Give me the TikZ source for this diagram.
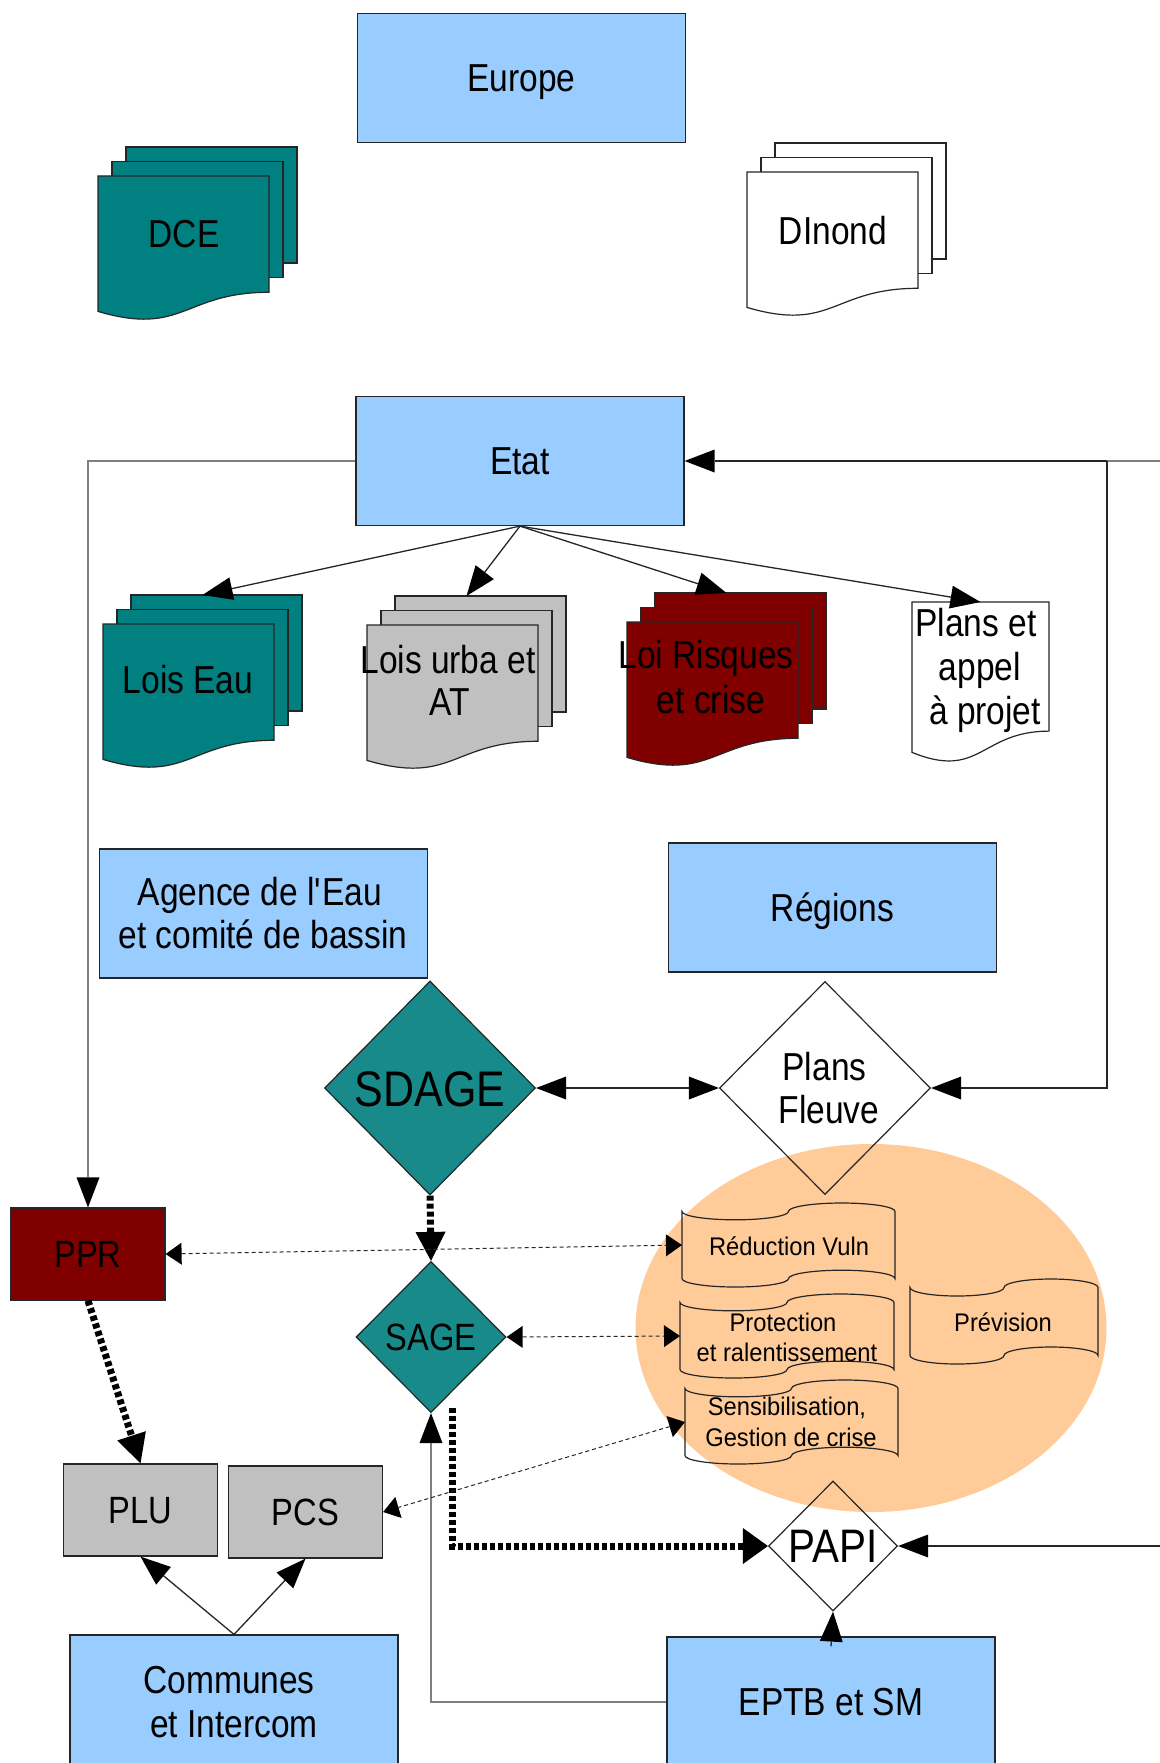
\documentclass[tikz,border=0pt]{standalone}
\usepackage{fontspec}
\setmainfont{Liberation Sans}[FakeStretch=0.86]
\newfontfamily\smallfam{Liberation Sans}[FakeStretch=0.93]
\usetikzlibrary{shapes.geometric,arrows.meta}
\definecolor{lblue}{HTML}{99CCFF}
\definecolor{teal1}{HTML}{008080}
\definecolor{teal2}{HTML}{198A8A}
\definecolor{dred}{HTML}{800000}
\definecolor{lgray}{HTML}{C0C0C0}
\definecolor{peach}{HTML}{FFCC99}
\definecolor{edge}{HTML}{262626}
\definecolor{gline}{HTML}{7F7F7F}
\tikzset{
  txtbig/.style={font=\fontsize{39}{44}\selectfont, text height=27.9pt, text depth=0pt, inner sep=0pt},
  txtmid/.style={font=\fontsize{38}{44}\selectfont, text height=27.2pt, text depth=0pt, inner sep=0pt},
  txtsmall/.style={font=\smallfam\fontsize{25.5}{30}\selectfont, text height=18.3pt, text depth=0pt, inner sep=0pt},
  txtsdage/.style={font=\fontsize{50}{56}\selectfont, text height=35.8pt, text depth=0pt, inner sep=0pt},
  txtpapi/.style={font=\fontsize{47}{53}\selectfont, text height=33.6pt, text depth=0pt, inner sep=0pt},
  shapeline/.style={draw=edge, line width=1.2pt},
  ghost/.style={inner sep=0pt, outer sep=0pt},
  bluebox/.style={draw=edge, line width=1.2pt, fill=lblue, minimum width=328pt, minimum height=129pt, txtbig},
  rectbox/.style={draw=edge, line width=1.2pt, minimum width=154pt, minimum height=92pt, txtmid},
  diam/.style={diamond, draw=edge, line width=1.2pt, inner sep=0pt},
  conn/.style={draw=edge, line width=1.3pt, -{Triangle[length=30pt,width=23pt,line width=0pt,color=black]}},
  connboth/.style={draw=edge, line width=1.3pt, {Triangle[length=30pt,width=23pt,line width=0pt,color=black]}-{Triangle[length=30pt,width=23pt,line width=0pt,color=black]}},
  gconn/.style={draw=gline, line width=1.6pt, -{Triangle[length=30pt,width=23pt,line width=0pt,color=black]}},
  heavydots/.style={draw=black, line width=7pt, dash pattern=on 5pt off 3pt, -{Triangle[length=29pt,width=30pt,line width=0pt]}},
  heavydotsb/.style={draw=black, line width=7pt, dash pattern=on 5pt off 3pt, -{Triangle[length=25pt,width=36pt,line width=0pt]}},
  lightdash/.style={draw=edge, line width=1pt, dash pattern=on 4pt off 3pt, {Triangle[length=16pt,width=22pt,line width=0pt,color=black]}-{Triangle[length=16pt,width=22pt,line width=0pt,color=black]}}
}
% multi-document: name, x, y (top of front sheet), w, h, fill
\newcommand\multidoc[6]{%
  \draw[shapeline,fill=#6] ({#2+28},{#3-29}) rectangle ++(#4,{0.8*#5});
  \draw[shapeline,fill=#6] ({#2+14},{#3-14.5}) rectangle ++(#4,{0.8*#5});
  \begin{scope}[shift={(#2,#3)},x=#4pt,y=-#5pt]
    \draw[shapeline,fill=#6] (0,0) -- (1,0) -- (1,.802) .. controls (.5,.802) and (.5,1.1075) .. (0,.934) -- cycle;
  \end{scope}
  \node[ghost,minimum width={(#4+28)*1pt},minimum height={(#5+29)*1pt},anchor=north west] (#1) at (#2,{#3-29}) {};}
% single document
\newcommand\singledoc[6]{%
  \begin{scope}[shift={(#2,#3)},x=#4pt,y=-#5pt]
    \draw[shapeline,fill=#6] (0,0) -- (1,0) -- (1,.802) .. controls (.5,.802) and (.5,1.1075) .. (0,.934) -- cycle;
    \node[ghost,minimum width=#4pt,minimum height=#5pt] (#1) at (.5,.5) {};
  \end{scope}}
% punched tape: name, x, y, w, h
\newcommand\tapeshape[5]{%
  \begin{scope}[shift={(#2,#3)},x=#4pt,y=-#5pt]
    \draw[shapeline] (0,.1) .. controls (0,.155) and (.112,.2) .. (.25,.2)
      .. controls (.388,.2) and (.5,.155) .. (.5,.1)
      .. controls (.5,.045) and (.612,0) .. (.75,0)
      .. controls (.888,0) and (1,.045) .. (1,.1) -- (1,.9)
      .. controls (1,.845) and (.888,.8) .. (.75,.8)
      .. controls (.612,.8) and (.5,.845) .. (.5,.9)
      .. controls (.5,.955) and (.388,1) .. (.25,1)
      .. controls (.112,1) and (0,.955) .. (0,.9) -- cycle;
    \node[ghost,minimum width=#4pt,minimum height=#5pt] (#1) at (.5,.5) {};
  \end{scope}}
\begin{document}
\begin{tikzpicture}[x=1pt,y=-1pt]
\useasboundingbox (0,0) rectangle (1159,1763);
\fill[white] (0,0) rectangle (1159,1763);
\node[ellipse, fill=peach, minimum width=471pt, minimum height=368pt, inner sep=0pt] (zone) at (871,1328) {};

% top level
\node[bluebox] (europe) at (521.5,78) {Europe};
\multidoc{dce}{98}{176}{171}{145}{teal1}
\node[txtbig] (dcet) at (184,234) {DCE};
\multidoc{dinond}{747}{172}{171}{145}{white}
\node[txtbig] (dinondt) at (833,231) {DInond};

\node[bluebox] (etat) at (520,461) {Etat};
\multidoc{loiseau}{103}{624}{171}{145}{teal1}
\node[txtbig] (loiseaut) at (188,680) {Lois Eau};
\multidoc{loisurba}{367}{625}{171}{145}{lgray}
\node[txtbig] (loisurba1) at (448,660) {Lois urba et};
\node[txtbig] (loisurba2) at (450,702) {AT};
\multidoc{loirisq}{627}{622}{171}{145}{dred}
\node[txtbig] (loirisq1) at (706,655) {Loi Risques};
\node[txtbig] (loirisq2) at (711,700) {et crise};
\singledoc{plansap}{912}{602}{137}{161}{white}
\node[txtbig] (plansap1) at (976,623) {Plans et};
\node[txtbig] (plansap2) at (980,667) {appel};
\node[txtbig] (plansap3) at (985,711) {à projet};

\node[bluebox] (agence) at (263.5,913.5) {};
\node[txtbig] (agence1) at (260,892) {Agence de l\textquotesingle Eau};
\node[txtbig] (agence2) at (263,935) {et comité de bassin};
\node[bluebox] (regions) at (832.5,907.5) {Régions};

% diamonds
\node[diam, fill=teal2, minimum width=211pt, minimum height=214pt] (sdage) at (430,1088) {};
\node[txtsdage] (sdaget) at (430,1089) {SDAGE};
\node[diam, minimum width=211pt, minimum height=213pt] (fleuve) at (825,1088) {};
\node[txtbig] (fleuve1) at (824.5,1067) {Plans};
\node[txtbig] (fleuve2) at (829,1110) {Fleuve};
\node[diam, fill=teal2, minimum width=150pt, minimum height=151pt] (sage) at (431,1337) {};
\node[txtmid] (saget) at (431,1337) {SAGE};
\node[diam, minimum width=129pt, minimum height=130pt] (papi) at (833,1546) {};
\node[txtpapi] (papit) at (833.5,1546) {PAPI};

% rectangles
\node[rectbox, fill=dred] (ppr) at (88,1254) {PPR};
\node[rectbox, fill=lgray] (plu) at (140.5,1510) {PLU};
\node[rectbox, fill=lgray] (pcs) at (305.5,1512) {PCS};

% punched tapes
\tapeshape{reduc}{682}{1203}{213}{84}
\node[txtsmall] (reduct) at (789,1246) {Réduction Vuln};
\tapeshape{protec}{680}{1294}{214}{84}
\node[txtsmall] (protec1) at (783,1322) {Protection};
\node[txtsmall] (protec2) at (787,1352) {et ralentissement};
\tapeshape{sensib}{685}{1380}{213}{84}
\node[txtsmall] (sensib1) at (787,1406) {Sensibilisation,};
\node[txtsmall] (sensib2) at (791,1437) {Gestion de crise};
\tapeshape{prev}{910}{1279}{188}{85}
\node[txtsmall] (prevt) at (1003,1322) {Prévision};

% bottom boxes
\node[bluebox, minimum height=130pt] (communes) at (234,1700) {};
\node[txtbig] (communes1) at (229,1680) {Communes};
\node[txtbig] (communes2) at (234,1724) {et Intercom};
\node[bluebox, minimum height=130pt] (eptb) at (831,1702) {EPTB et SM};

% connectors
\draw[conn] (etat.south) -- (loiseau.north);
\draw[conn] (etat.south) -- (loisurba.north);
\draw[conn] (etat.south) -- (loirisq.north);
\draw[conn] (etat.south) -- (plansap.north);

\coordinate (rjoin) at (1107,461);
\coordinate (redge) at (1165,461);
\draw[draw=gline, line width=1.6pt] (redge) -- (rjoin);
\draw[conn] (rjoin) -- (etat.east);
\draw[conn] (rjoin) |- (fleuve.east);
\draw[gconn] (etat.west) -| (ppr.north);

\draw[connboth] (sdage.east) -- (fleuve.west);
\draw[heavydots] (sdage.south) -- (sage.north);
\draw[heavydots] (ppr.south) -- (plu.north);
\coordinate (sagestart) at (452,1408);
\draw[heavydotsb] (sagestart) |- (papi.west);

\draw[gconn] (eptb.west) -| (sage.south);
\draw[conn] ([yshift=-10pt]eptb.north) -- (papi.south);
\coordinate (pedge) at (1165,1546);
\draw[conn] (pedge) -- (papi.east);
\draw[conn] (communes.north) -- (plu.south);
\draw[conn] (communes.north) -- (pcs.south);

\draw[lightdash] (ppr.east) -- (reduc.west);
\draw[lightdash] (sage.east) -- (protec.west);
\draw[lightdash] (sensib.west) -- (pcs.east);
\end{tikzpicture}
\end{document}
